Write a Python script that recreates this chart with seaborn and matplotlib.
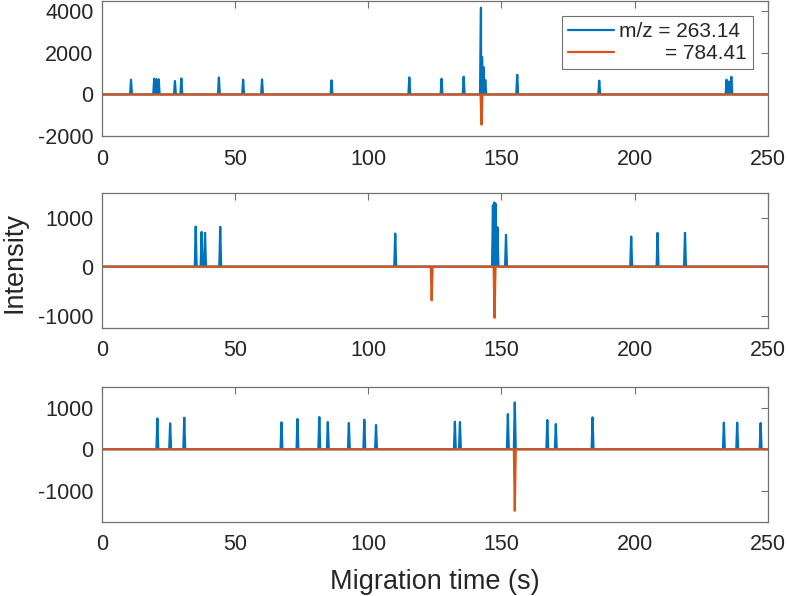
import matplotlib.pyplot as plt
import seaborn as sns
import pandas as pd

# peak lists: (time in s, intensity)
top_blue_t = [10.9, 19.6, 20.4, 21.3, 27.4, 29.8, 43.9, 53.0, 60.1, 86.2, 115.4,
              127.5, 135.8, 142.3, 142.7, 143.3, 143.9, 155.9, 186.7, 234.5, 235.4, 236.3]
top_blue_h = [710, 756, 740, 730, 646, 770, 820, 710, 725, 677, 820,
              756, 851, 4175, 1800, 1310, 700, 945, 662, 710, 620, 851]
top_red_t = [142.5]
top_red_h = [-1450]

mid_blue_t = [35.2, 37.4, 38.7, 44.4, 110.1, 146.8, 147.3, 147.8, 148.5, 151.7,
              198.7, 208.6, 218.9]
mid_blue_h = [816, 707, 687, 810, 673, 1250, 1306, 1280, 800, 646,
              612, 687, 687]
mid_red_t = [123.8, 147.4]
mid_red_h = [-687, -1041]

bot_blue_t = [20.8, 25.6, 30.9, 67.4, 73.4, 81.6, 84.8, 92.7, 98.5, 102.9,
              132.5, 134.4, 152.4, 155.0, 167.2, 170.4, 184.2, 233.5, 238.5, 247.3]
bot_blue_h = [744, 624, 760, 648, 728, 776, 656, 632, 712, 584,
              664, 656, 848, 1128, 704, 608, 768, 640, 640, 632]
bot_red_t = [155.0]
bot_red_h = [-1480]

t_start, t_end = 0, 250
half_w = 0.35

labels = ["m/z = 263.14", "        = 784.41"]
ylims = [(-2000, 4500), (-1250, 1500), (-1750, 1500)]
yticks = [[-2000, 0, 2000, 4000], [-1000, 0, 1000], [-1000, 0, 1000]]

BLUE = "#0072BD"
ORANGE = "#D95319"


def trace(times, heights):
    # baseline at zero with a narrow spike at each peak
    xs, ys = [t_start, t_end], [0, 0]
    for t, h in zip(times, heights):
        xs += [t - half_w, t, t + half_w]
        ys += [0, h, 0]
    return pd.DataFrame({"time": xs, "intensity": ys})


sns.set_style("white")
plt.rcParams["font.family"] = ["Liberation Sans", "DejaVu Sans"]
plt.rcParams["axes.unicode_minus"] = False

fig = plt.figure(figsize=(7.88, 5.96), dpi=100)
left, width = 0.1294, 0.845
boxes = [(0.7718, 0.2265), (0.4497, 0.2265), (0.1242, 0.2265)]
panels = [(top_blue_t, top_blue_h, top_red_t, top_red_h),
          (mid_blue_t, mid_blue_h, mid_red_t, mid_red_h),
          (bot_blue_t, bot_blue_h, bot_red_t, bot_red_h)]

for i, ((bt, bh, rt, rh), (b, h)) in enumerate(zip(panels, boxes)):
    ax = fig.add_axes([left, b, width, h])
    sns.lineplot(data=trace(bt, bh), x="time", y="intensity", color=BLUE,
                 linewidth=1.6, estimator=None, ax=ax, label=labels[0])
    sns.lineplot(data=trace(rt, rh), x="time", y="intensity", color=ORANGE,
                 linewidth=1.6, estimator=None, ax=ax, label=labels[1])
    ax.set_xlim(t_start, t_end)
    ax.set_ylim(*ylims[i])
    ax.set_yticks(yticks[i])
    ax.set_xticks([0, 50, 100, 150, 200, 250])
    ax.set_xlabel("")
    ax.set_ylabel("")
    ax.tick_params(direction="in", length=5, width=0.8, colors="#707070",
                   labelcolor="#262626", labelsize=15.5, top=True, right=True)
    ax.tick_params(axis="x", pad=9)
    ax.tick_params(axis="y", pad=6)
    for s in ax.spines.values():
        s.set_color("#707070")
        s.set_linewidth(0.9)
        s.set_visible(True)
    if i == 0:
        leg = ax.legend(loc="upper right", fontsize=15, frameon=True,
                        fancybox=False, framealpha=1, edgecolor="#707070",
                        handlelength=2.2, handletextpad=0.25,
                        borderaxespad=0.7, labelspacing=0.15, borderpad=0.3)
        leg.get_frame().set_linewidth(0.8)
    else:
        ax.get_legend().remove()

fig.text(0.018, 0.5596, "Intensity", rotation=90, ha="center", va="center",
         fontsize=19.5, color="#262626")
fig.text(left + width / 2, 0.011, "Migration time (s)", ha="center",
         va="baseline", fontsize=19.5, color="#262626")

plt.savefig("out.png", dpi=100)
plt.close()
